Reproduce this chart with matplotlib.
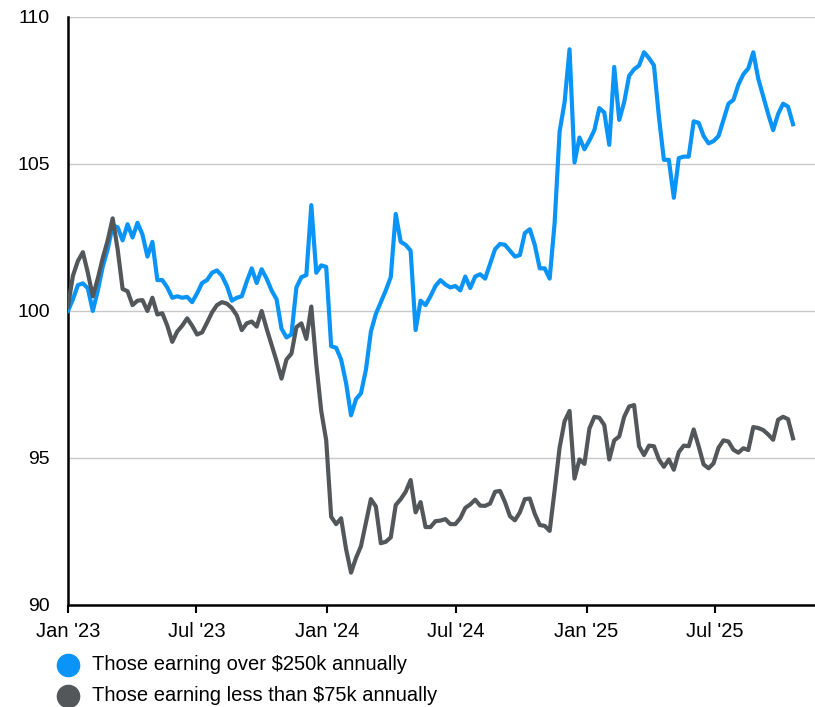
import numpy as np
import pandas as pd
import matplotlib
matplotlib.use("Agg")
import matplotlib.pyplot as plt
from matplotlib.lines import Line2D

plt.rcParams['font.family'] = ['Liberation Sans', 'DejaVu Sans']

# weekly index values, base 100 at the start of 2023
dates = pd.date_range("2023-01-01", periods=147, freq="7D")

high_income = [
    100.0, 100.4, 100.88, 100.94, 100.77, 100.0, 100.69, 101.5, 102.1, 102.9,
    102.85, 102.4, 102.95, 102.5, 103.0, 102.6, 101.85, 102.35, 101.05, 101.05,
    100.8, 100.45, 100.5, 100.45, 100.48, 100.3, 100.6, 100.95, 101.05, 101.3,
    101.38, 101.2, 100.85, 100.35, 100.45, 100.5, 101.0, 101.45, 100.95, 101.42,
    101.1, 100.7, 100.4, 99.4, 99.1, 99.2, 100.8, 101.15, 101.22, 103.6,
    101.3, 101.55, 101.5, 98.8, 98.75, 98.35, 97.55, 96.45, 97.0, 97.2,
    98.0, 99.3, 99.9, 100.3, 100.7, 101.15, 103.3, 102.35, 102.25, 102.05,
    99.35, 100.35, 100.2, 100.5, 100.85, 101.05, 100.9, 100.8, 100.85, 100.7,
    101.17, 100.78, 101.17, 101.25, 101.1, 101.6, 102.1, 102.28, 102.25, 102.05,
    101.85, 101.9, 102.65, 102.78, 102.25, 101.45, 101.45, 101.1, 103.0, 106.1,
    107.1, 108.9, 105.05, 105.9, 105.5, 105.8, 106.15, 106.9, 106.75, 105.65,
    108.3, 106.5, 107.1, 108.0, 108.22, 108.35, 108.8, 108.6, 108.35, 106.6,
    105.14, 105.14, 103.85, 105.2, 105.25, 105.25, 106.45, 106.4, 105.95, 105.7,
    105.78, 105.95, 106.5, 107.05, 107.18, 107.7, 108.05, 108.25, 108.8, 107.9,
    107.3, 106.7, 106.15, 106.7, 107.05, 106.95, 106.35,
]

low_income = [
    100.15, 101.2, 101.7, 102.0, 101.3, 100.5, 101.1, 101.8, 102.4, 103.15,
    102.1, 100.75, 100.67, 100.2, 100.35, 100.37, 100.0, 100.45, 99.88, 99.92,
    99.5, 98.95, 99.3, 99.5, 99.75, 99.5, 99.2, 99.27, 99.6, 99.95,
    100.2, 100.3, 100.25, 100.1, 99.85, 99.35, 99.58, 99.64, 99.47, 100.0,
    99.4, 98.85, 98.3, 97.7, 98.35, 98.55, 99.45, 99.58, 99.05, 100.15,
    98.2, 96.6, 95.6, 93.0, 92.75, 92.95, 91.9, 91.1, 91.6, 92.0,
    92.8, 93.6, 93.35, 92.1, 92.15, 92.3, 93.4, 93.6, 93.85, 94.25,
    93.15, 93.5, 92.65, 92.65, 92.85, 92.87, 92.92, 92.75, 92.75, 92.95,
    93.3, 93.42, 93.58, 93.38, 93.37, 93.45, 93.85, 93.88, 93.5, 93.02,
    92.88, 93.15, 93.6, 93.62, 93.1, 92.72, 92.69, 92.52, 93.9, 95.35,
    96.25, 96.6, 94.3, 94.95, 94.8, 96.0, 96.4, 96.37, 96.12, 94.95,
    95.6, 95.73, 96.4, 96.75, 96.8, 95.4, 95.1, 95.42, 95.4, 94.95,
    94.7, 94.95, 94.6, 95.2, 95.42, 95.4, 95.97, 95.4, 94.78, 94.65,
    94.82, 95.35, 95.6, 95.56, 95.28, 95.18, 95.33, 95.27, 96.05, 96.02,
    95.95, 95.8, 95.62, 96.3, 96.4, 96.32, 95.67,
]

labels = ["Those earning over $250k annually", "Those earning less than $75k annually"]
colors = ["#0b94f7", "#53575a"]

tick_dates = pd.to_datetime(["2023-01-01", "2023-07-01", "2024-01-01",
                             "2024-07-01", "2025-01-01", "2025-07-01"])
tick_labels = ["Jan '23", "Jul '23", "Jan '24", "Jul '24", "Jan '25", "Jul '25"]

fig = plt.figure(figsize=(8.15, 7.07), dpi=100)
ax = fig.add_axes([0.0834, 0.1443, 0.9166, 0.8317])

ax.plot(dates, high_income, color=colors[0], lw=3.0, solid_joinstyle="round", zorder=3)
ax.plot(dates, low_income, color=colors[1], lw=3.0, solid_joinstyle="round", zorder=3)

ax.set_ylim(90, 110)
ax.set_yticks([90, 95, 100, 105, 110])
ax.set_xlim(pd.Timestamp("2023-01-01"), pd.Timestamp("2025-11-19"))
ax.set_xticks(tick_dates)
ax.set_xticklabels(tick_labels)

for y in [95, 100, 105, 110]:
    ax.axhline(y, color="#c8c8c8", lw=1.0, zorder=1)

for side in ["top", "right"]:
    ax.spines[side].set_visible(False)
for side in ["left", "bottom"]:
    ax.spines[side].set_linewidth(1.8)
    ax.spines[side].set_color("black")

ax.tick_params(axis="y", length=0, pad=13, labelsize=14)
ax.tick_params(axis="x", length=6, width=1.5, direction="out", pad=6, labelsize=14.5)

# legend rows: coloured dot followed by the series name
for row, (lab, col) in enumerate(zip(labels, colors)):
    y_dot = 0.0594 - row * 0.0438
    fig.add_artist(Line2D([0.0834], [y_dot], marker="o", ls="", markersize=16,
                          color=col, transform=fig.transFigure))
    fig.text(0.1129, y_dot - 0.0075, lab, fontsize=14.5, va="baseline", ha="left")

fig.savefig("out.png", dpi=100)
